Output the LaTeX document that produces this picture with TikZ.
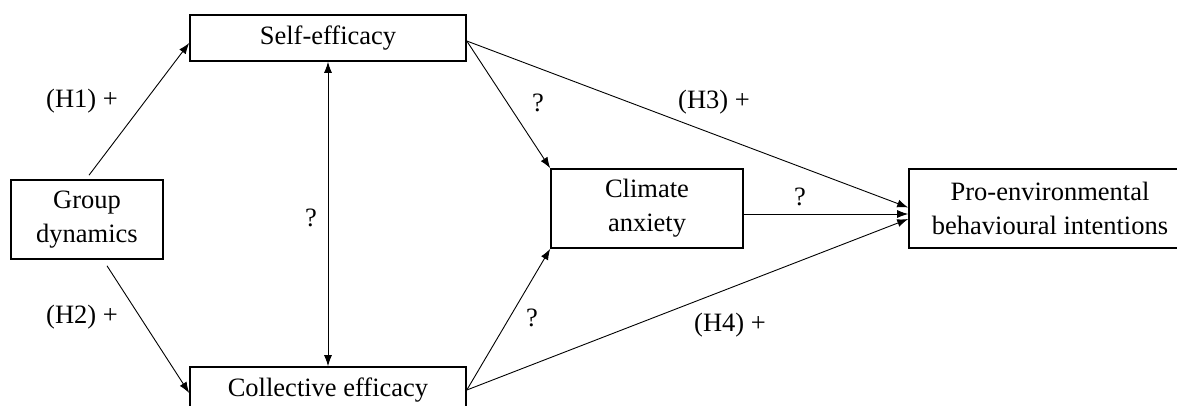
\documentclass[tikz,border=0pt]{standalone}
\usepackage{fontspec}
\setmainfont{Liberation Serif}
\usetikzlibrary{arrows.meta}
\begin{document}
\begin{tikzpicture}[x=1pt,y=-1pt,
  box/.style={draw,line width=1.6pt,rectangle,inner sep=0pt,align=center,
    font=\fontsize{26.5}{34}\selectfont},
  conn/.style={line width=0.9pt,-{Latex[length=11pt,width=8pt]}},
  lbl/.style={font=\fontsize{26.5}{34}\selectfont,inner sep=0pt}]
\useasboundingbox (0,0) rectangle (1177,405);
\node[box,minimum width=276pt,minimum height=46pt] (self) at (328,38) {Self-efficacy};
\node[box,minimum width=152pt,minimum height=79pt] (group) at (87,219.5) {Group\\dynamics};
\node[box,minimum width=276pt,minimum height=46pt] (coll) at (328,390) {Collective efficacy};
\node[box,minimum width=192pt,minimum height=79pt] (clim) at (647,208.5) {Climate\\anxiety};
\node[box,minimum width=282pt,minimum height=79pt] (pro) at (1050,208.5) {Pro-environmental\\behavioural intentions};

\draw[conn] ([xshift=2pt,yshift=4pt]group.north) -- ([yshift=-5pt]self.west);
\draw[conn] ([xshift=20pt,yshift=-6pt]group.south) -- ([yshift=-3pt]coll.west);
\draw[line width=0.9pt,{Latex[length=11pt,width=8pt]}-{Latex[length=11pt,width=8pt]}] (self.south) -- (coll.north);
\draw[conn] ([yshift=-3pt]self.east) -- (clim.north west);
\draw[conn] ([yshift=-3pt]self.east) -- ([yshift=1pt]pro.west);
\draw[conn] ([yshift=-5.5pt]clim.east) -- ([yshift=-5.5pt]pro.west);
\draw[conn] (coll.east) -- (clim.south west);
\draw[conn] (coll.east) -- ([yshift=-10.5pt]pro.west);

\node[lbl] (h1) at (82,101) {(H1) +};
\node[lbl] (h2) at (82,317) {(H2) +};
\node[lbl] (q1) at (311,218) {?};
\node[lbl] (q2) at (538,103) {?};
\node[lbl] (h3) at (714,102) {(H3) +};
\node[lbl] (q3) at (800,197) {?};
\node[lbl] (q4) at (532,318) {?};
\node[lbl] (h4) at (730,325) {(H4) +};
\end{tikzpicture}
\end{document}
